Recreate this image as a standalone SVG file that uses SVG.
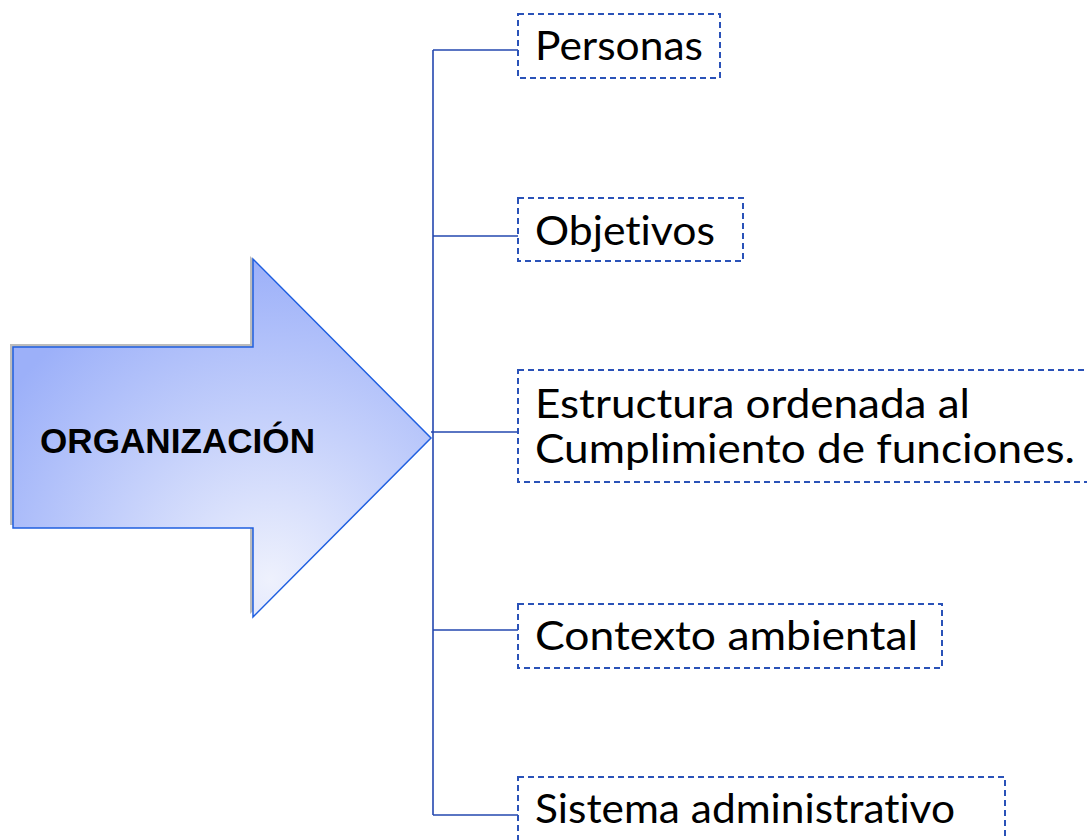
<svg xmlns="http://www.w3.org/2000/svg" width="1087" height="840" viewBox="0 0 1087 840">
<defs>
<radialGradient id="g" cx="270" cy="580" r="320" gradientUnits="userSpaceOnUse">
<stop offset="0" stop-color="#eef1fd"/>
<stop offset="1" stop-color="#9cb0f9"/>
</radialGradient>
<style>
.box{fill:#fff;stroke:#2a52b8;stroke-width:2;stroke-dasharray:6 4}
.lbl{font-family:Lato,"Liberation Sans",Arial,sans-serif;font-size:41px;fill:#000;font-variant-ligatures:none}
.conn{stroke:#2548b0;stroke-width:1.6;fill:none}
</style>
</defs>
<rect width="1087" height="840" fill="#fff"/>
<g id="arrow">
<polygon points="10,344 250,344 250,256 428,435 250,614 250,525 10,525" fill="#b0b0b0" opacity="0.85"/>
<polygon points="13,347 253,347 253,259 431,438 253,617 253,528 13,528" fill="url(#g)" stroke="#1f5fe0" stroke-width="1.5"/>
<text x="40" y="453" font-family="'Liberation Sans',Arial,sans-serif" font-weight="bold" font-size="35" textLength="275" lengthAdjust="spacingAndGlyphs">ORGANIZACIÓN</text>
</g>
<g id="connectors">
<path class="conn" d="M433,50 V815 M433,50 H518 M433,236 H518 M431,432 H518 M433,630 H518 M433,815 H518"/>
</g>
<g id="n1">
<rect class="box" x="518" y="14" width="202" height="64"/>
<text class="lbl" x="535" y="60" textLength="168" lengthAdjust="spacingAndGlyphs">Personas</text>
</g>
<g id="n2">
<rect class="box" x="518" y="198" width="225" height="63"/>
<text class="lbl" x="535" y="245" textLength="180" lengthAdjust="spacingAndGlyphs">Objetivos</text>
</g>
<g id="n3">
<rect class="box" x="518" y="370" width="580" height="112"/>
<text class="lbl" x="535" y="418" textLength="435" lengthAdjust="spacingAndGlyphs">Estructura ordenada al</text>
<text class="lbl" x="535" y="463" textLength="540" lengthAdjust="spacingAndGlyphs">Cumplimiento de funciones.</text>
</g>
<g id="n4">
<rect class="box" x="518" y="604" width="424" height="64"/>
<text class="lbl" x="535" y="650" textLength="383" lengthAdjust="spacingAndGlyphs">Contexto ambiental</text>
</g>
<g id="n5">
<rect class="box" x="518" y="777" width="487" height="80"/>
<text class="lbl" x="535" y="823" textLength="420" lengthAdjust="spacingAndGlyphs">Sistema administrativo</text>
</g>
</svg>
